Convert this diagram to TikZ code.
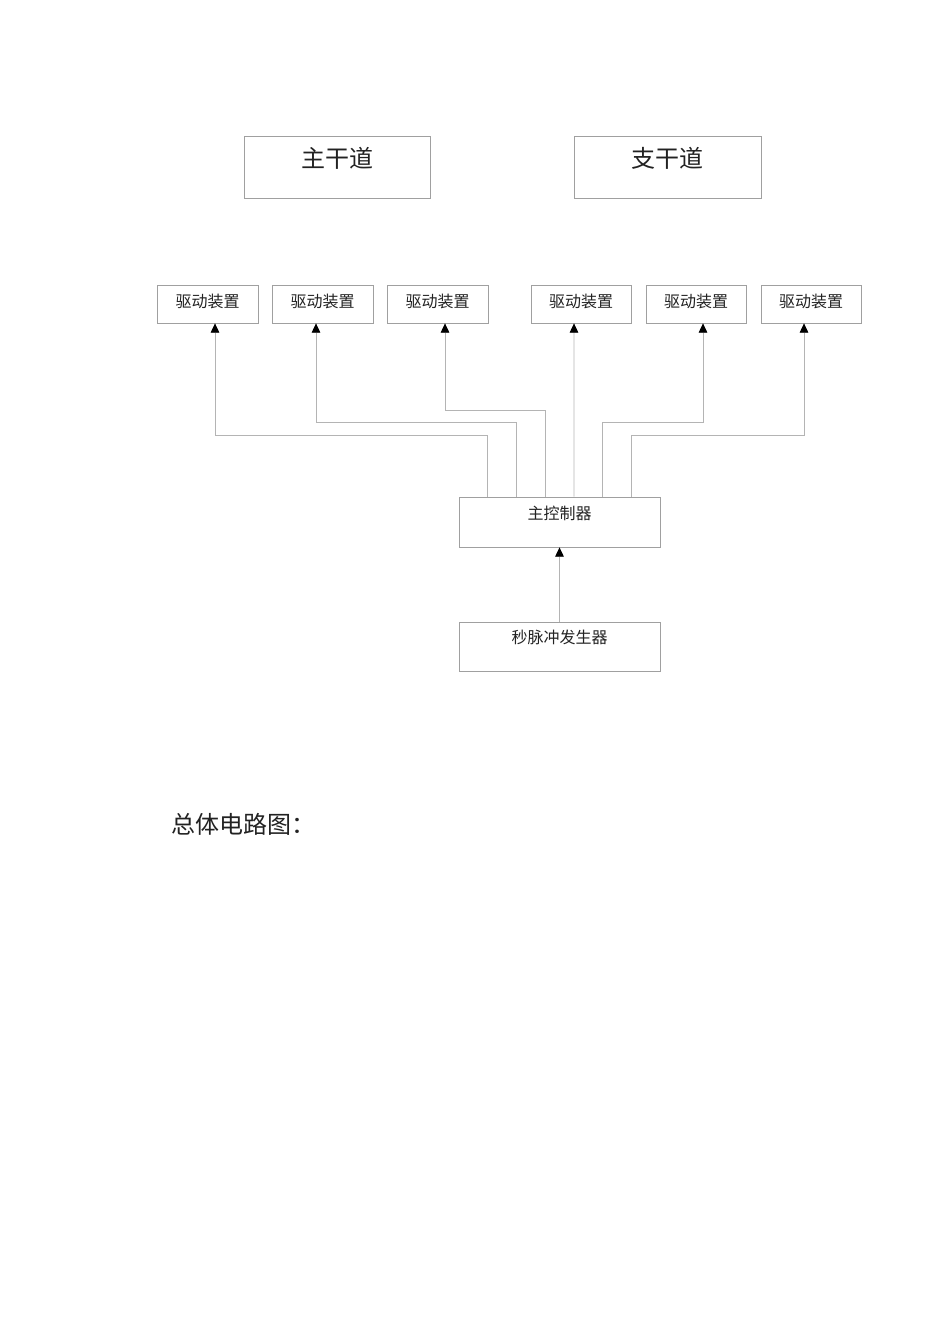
\documentclass[tikz,border=0pt]{standalone}
\usepackage{fontspec}
\setmainfont{Noto Sans CJK SC}
\usetikzlibrary{arrows.meta,calc,positioning}
\definecolor{boxgray}{HTML}{A0A0A0}
\definecolor{linegray}{HTML}{B4B4B4}
\definecolor{txtgray}{HTML}{222222}

\begin{document}
\begin{tikzpicture}[x=0.75pt,y=-0.75pt,
  box/.style={draw=boxgray,line width=0.6pt,inner sep=0pt},
  bigtxt/.style={font=\fontsize{18pt}{20pt}\selectfont,text=txtgray,inner sep=0pt},
  smalltxt/.style={font=\fontsize{12pt}{14pt}\selectfont,text=txtgray,inner sep=0pt},
  conn/.style={draw=linegray,line width=0.6pt,-{Triangle[black,width=6.5pt,length=7pt]}}]

\useasboundingbox (0,0) rectangle (950,1344);

% Fahrbahnen
\node[box,minimum width=186*0.75pt,minimum height=62*0.75pt,
  label={[bigtxt,yshift=6.75pt]center:主干道}] (main) at (337,167) {};
\node[box,minimum width=187*0.75pt,minimum height=62*0.75pt,
  label={[bigtxt,yshift=6.75pt]center:支干道}] (side) at (667.5,167) {};

% Antriebe
\foreach \n/\x/\w in {d1/207.5/101, d2/322.5/101, d3/437.5/101, d4/581/100, d5/696/100, d6/811/100}
  \node[box,minimum width=\w*0.75pt,minimum height=38*0.75pt,
    label={[smalltxt,yshift=2.25pt]center:驱动装置}] (\n) at (\x,304) {};

% Steuerung
\node[box,minimum width=201*0.75pt,minimum height=50*0.75pt,
  label={[smalltxt,yshift=6.75pt]center:主控制器}] (ctrl) at (559.5,522) {};
\node[box,minimum width=201*0.75pt,minimum height=49*0.75pt,
  label={[smalltxt,yshift=7pt]center:秒脉冲发生器}] (pulse) at (559.5,646.5) {};

% Leitungen
\foreach \i/\d/\s/\l in {1/d1/7.5/435, 2/d2/-6.5/422, 3/d3/7.5/410, 5/d5/7/422, 6/d6/-7/435}
  \draw[conn] ($(ctrl.north west)!\i/7!(ctrl.north east)$) coordinate (p)
    -- (p |- 0,\l) -| ([xshift=\s*0.75pt]\d.south);
\draw[conn] ($(ctrl.north west)!4/7!(ctrl.north east)$) -- ([xshift=-7*0.75pt]d4.south);
\draw[conn] (pulse.north) -- (ctrl.south);

% Titel
\node[bigtxt,anchor=west] (title) at (171,824) {总体电路图：};

\end{tikzpicture}
\end{document}
